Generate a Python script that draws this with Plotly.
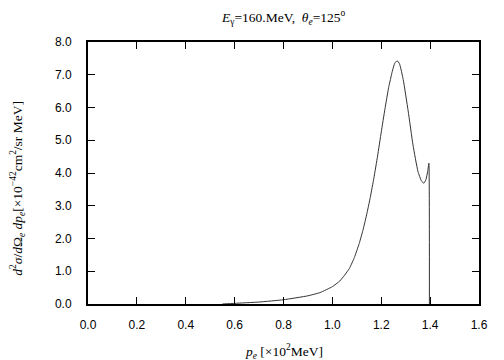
import plotly.graph_objects as go

p_e = [0.55, 0.6, 0.7, 0.8, 0.9, 0.95, 1.0, 1.03, 1.05, 1.07, 1.09, 1.11, 1.125, 1.14, 1.155,
       1.17, 1.185, 1.2, 1.215, 1.23, 1.245, 1.255, 1.265, 1.275, 1.29, 1.31, 1.33, 1.35,
       1.365, 1.375, 1.383, 1.39, 1.395, 1.397]
xsec = [0.0, 0.02, 0.06, 0.13, 0.25, 0.35, 0.53, 0.7, 0.88, 1.09, 1.42, 1.85, 2.25, 2.72, 3.25,
        3.85, 4.52, 5.25, 5.95, 6.6, 7.1, 7.35, 7.43, 7.33, 6.85, 5.9, 4.85, 4.05,
        3.75, 3.69, 3.8, 4.05, 4.3, 0.0]

x_ticks = [0.0, 0.2, 0.4, 0.6, 0.8, 1.0, 1.2, 1.4, 1.6]
y_ticks = [0.0, 1.0, 2.0, 3.0, 4.0, 5.0, 6.0, 7.0, 8.0]

fig = go.Figure()
fig.add_trace(go.Scatter(x=p_e, y=xsec, mode="lines",
                         line=dict(color="#333333", width=1, shape="spline", smoothing=0.4),
                         showlegend=False, hoverinfo="skip"))

axis_common = dict(showline=True, linecolor="black", linewidth=2, mirror="ticks",
                   ticks="inside", ticklen=7, tickwidth=1, tickcolor="black",
                   showgrid=False, zeroline=False,
                   tickfont=dict(family="Liberation Sans, Arial", size=12, color="black"))

fig.update_xaxes(range=[0, 1.6], tickvals=x_ticks,
                 ticktext=[f"{v:.1f}" for v in x_ticks], ticklabelstandoff=9, **axis_common)
fig.update_yaxes(range=[0, 8], tickvals=y_ticks,
                 ticktext=[f"{v:.1f}" for v in y_ticks], ticklabelstandoff=12, **axis_common)

serif = dict(family="Liberation Serif, Times New Roman, serif", size=13.5, color="black")

fig.add_annotation(text="<i>E</i><sub>γ</sub>=160.MeV,  <i>θ</i><sub><i>e</i></sub>=125<sup>o</sup>",
                   xref="paper", yref="paper", x=0.5, y=1.0, yshift=25, xanchor="center",
                   yanchor="middle", showarrow=False, font=serif)
fig.add_annotation(text="<i>p</i><sub><i>e</i></sub> [×10<sup>2</sup>MeV]",
                   xref="paper", yref="paper", x=0.5, y=0, yshift=-47, xanchor="center",
                   yanchor="middle", showarrow=False, font=serif)
fig.add_annotation(text="<i>d</i><sup>2</sup><i>σ</i>/<i>d</i>Ω<sub><i>e</i></sub> <i>dp</i><sub><i>e</i></sub>[×10<sup>−42</sup>cm<sup>2</sup>/sr MeV]",
                   xref="paper", yref="paper", x=0, y=0.44, xshift=-70, xanchor="center",
                   yanchor="middle", textangle=-90, showarrow=False, font=serif)

fig.update_layout(width=496, height=352, margin=dict(l=80, r=25, t=34, b=56),
                  plot_bgcolor="white", paper_bgcolor="white")

fig.write_html("out.html")
